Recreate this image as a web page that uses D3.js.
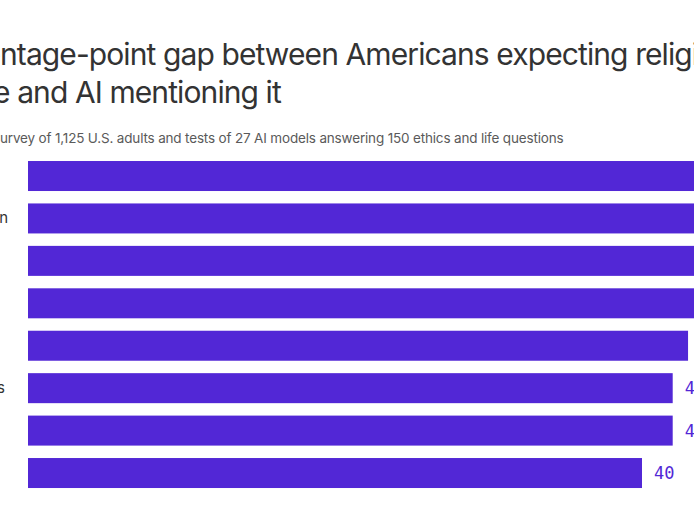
<!DOCTYPE html>
<html>
<head>
<meta charset="utf-8">
<script src="https://cdn.jsdelivr.net/npm/d3@7"></script>
<style>
  html, body { margin: 0; padding: 0; background: #fff; }
  svg { display: block; }
</style>
</head>
<body>
<svg id="chart" width="694" height="532"></svg>
<script>
// ---- data ----
const titleLines = [
  "Percentage-point gap between Americans expecting religion",
  "in life guidance and AI mentioning it"
];
const titleHidden = ["Perce", "in life guidanc"];
const subtitle = "Based on a survey of 1,125 U.S. adults and tests of 27 AI models answering 150 ethics and life questions";
const subtitleHidden = "Based on a s";
const categories = [
  "Grief",
  "Spiritual questions about religion",
  "Forgiveness",
  "Marriage",
  "Death",
  "Spiritual questions about doubts",
  "Parenting",
  "Charity"
];
const values = [47, 46, 45, 44, 43, 42, 42, 40];

// ---- layout ----
const W = 694, H = 532;
const barColor = "#5227d6";
const svg = d3.select("#chart");
svg.append("rect").attr("width", W).attr("height", H).attr("fill", "#fff");

const x = d3.scaleLinear().domain([0, 50]).range([28, 28 + 50 * 15.35]);
const y = d3.scaleBand().domain(categories)
  .range([154.8, 154.8 + 8 * 42.43]).paddingInner(0.293).paddingOuter(0.1465);

// title
const tBase = [65, 103];
const tShift = [0, 7];
titleLines.forEach((line, i) => {
  const t = svg.append("text")
    .attr("y", tBase[i])
    .attr("font-family", "Inter, sans-serif")
    .attr("font-size", 30)
    .attr("letter-spacing", -0.9)
    .attr("fill", "#333")
    .text(line);
  const off = t.node().getSubStringLength(0, titleHidden[i].length);
  t.attr("x", -off - tShift[i]);
});

// subtitle
const st = svg.append("text")
  .attr("y", 143)
  .attr("font-family", "Inter, sans-serif")
  .attr("font-size", 13.5)
  .attr("letter-spacing", -0.17)
  .attr("fill", "#5a5a5a")
  .text(subtitle);
st.attr("x", -st.node().getSubStringLength(0, subtitleHidden.length));

// bars
svg.append("g").selectAll("rect").data(values).join("rect")
  .attr("x", x(0))
  .attr("y", (d, i) => y(categories[i]))
  .attr("width", d => x(d) - x(0))
  .attr("height", y.bandwidth())
  .attr("fill", barColor);

// value labels
svg.append("g").selectAll("text").data(values).join("text")
  .attr("x", d => x(d) + 12)
  .attr("y", (d, i) => y(categories[i]) + y.bandwidth() / 2 + 6)
  .attr("font-family", "'DejaVu Sans Mono', monospace")
  .attr("font-size", 17)
  .attr("fill", barColor)
  .text(d => d);

// category labels (left aligned in a column partly outside the view)
const lab = svg.append("g").selectAll("text").data(categories).join("text")
  .attr("y", d => y(d) + y.bandwidth() / 2 + 5)
  .attr("font-family", "Inter, sans-serif")
  .attr("font-size", 15)
  .attr("fill", "#333")
  .text(d => d);
const w2 = lab.nodes()[1].getComputedTextLength();
lab.attr("x", 8 - w2);
</script>
</body>
</html>
